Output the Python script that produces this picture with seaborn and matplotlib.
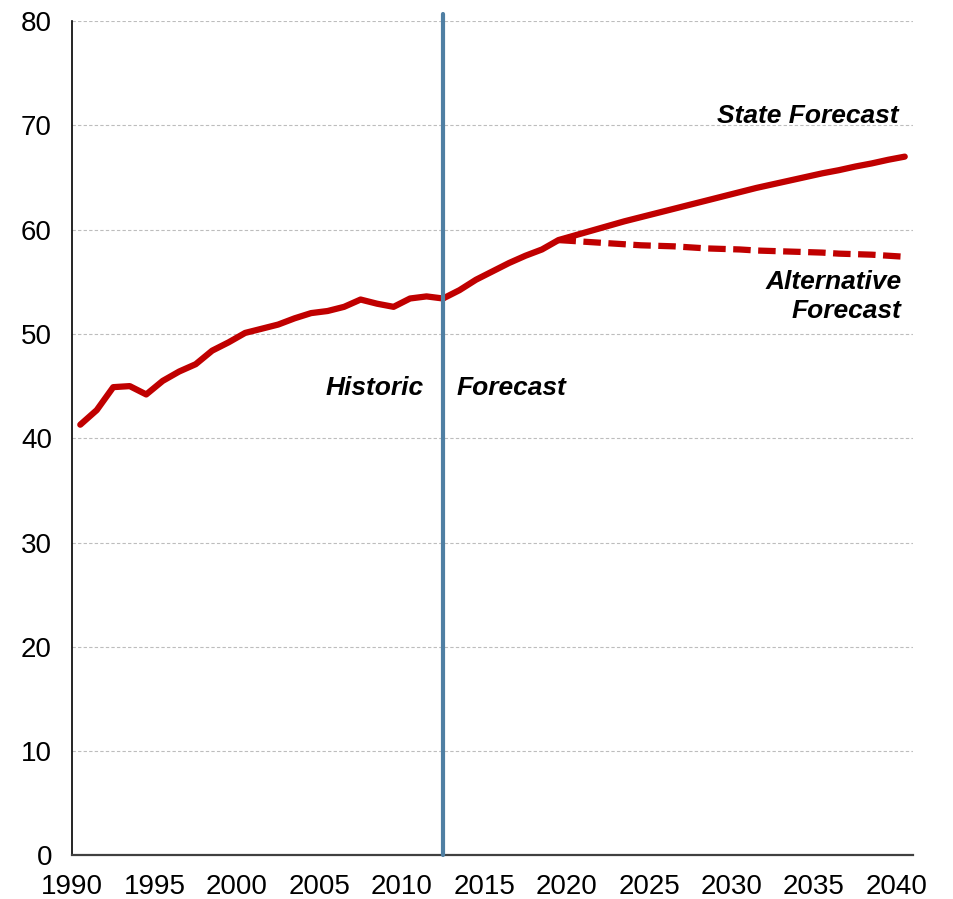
import pandas as pd
import seaborn as sns
import matplotlib.pyplot as plt

# historic series 1990-2012
hist_years = list(range(1990, 2013))
hist_vals = [41.3, 42.7, 44.9, 45.0, 44.2, 45.5, 46.4, 47.1, 48.4, 49.2,
             50.1, 50.5, 50.9, 51.5, 52.0, 52.2, 52.6, 53.3, 52.9, 52.6,
             53.4, 53.6, 53.4]

# state forecast 2012-2040
state_years = list(range(2012, 2041))
state_vals = [53.4, 54.2, 55.2, 56.0, 56.8, 57.5, 58.1, 59.0,
              59.45, 59.9, 60.35, 60.8, 61.2, 61.6, 62.0, 62.4, 62.8, 63.2,
              63.6, 64.0, 64.35, 64.7, 65.05, 65.4, 65.7, 66.05, 66.35, 66.7, 67.0]

# alternative forecast 2019-2040
alt_years = list(range(2019, 2041))
alt_vals = [59.0, 58.9, 58.8, 58.7, 58.6, 58.5, 58.45, 58.4, 58.3, 58.2,
            58.15, 58.1, 58.0, 57.95, 57.9, 57.85, 57.8, 57.7, 57.65, 57.6,
            57.5, 57.4]

tick_years = list(range(1990, 2041, 5))
split_year = 2012

sns.set_style("white")
plt.rcParams['font.family'] = ['Liberation Sans', 'DejaVu Sans']

red = "#C00000"

df_hist = pd.DataFrame({"year": hist_years, "value": hist_vals})
df_state = pd.DataFrame({"year": state_years, "value": state_vals})
df_alt = pd.DataFrame({"year": alt_years, "value": alt_vals})

fig, ax = plt.subplots(figsize=(9.54, 8.99), dpi=100)
fig.subplots_adjust(left=0.0755, right=0.957, bottom=0.0484, top=0.9766)

# grid
for v in range(10, 81, 10):
    ax.axhline(v, color="#BDBDBD", lw=0.8, ls=(0, (3, 2)), zorder=0)

sns.lineplot(data=df_alt, x="year", y="value", ax=ax, color=red, lw=4.5, zorder=3)
alt_line = ax.lines[-1]
alt_line.set_linestyle((0, (2.8, 1.2)))

sns.lineplot(data=df_hist, x="year", y="value", ax=ax, color=red, lw=4.5, zorder=4)
sns.lineplot(data=df_state, x="year", y="value", ax=ax, color=red, lw=4.5, zorder=4)
for ln in ax.lines[-2:]:
    ln.set_solid_capstyle("round")
    ln.set_solid_joinstyle("round")

ax.axvline(split_year, ymin=0.0, ymax=1.008, color="#4F7FA3", lw=3,
           clip_on=False, zorder=5)

ax.set_xlim(1989.5, 2040.5)
ax.set_ylim(0, 80)
ax.set_xticks([y - 0.5 for y in tick_years])
ax.set_xticklabels([str(y) for y in tick_years])
ax.set_yticks(range(0, 81, 10))
ax.set_xlabel("")
ax.set_ylabel("")

for s in ["top", "right"]:
    ax.spines[s].set_visible(False)
ax.spines["left"].set_color("black")
ax.spines["left"].set_linewidth(1.2)
ax.spines["bottom"].set_color("#404040")
ax.spines["bottom"].set_linewidth(1.6)
ax.tick_params(axis="both", direction="inout", length=11, width=1,
               color="black", labelsize=20, labelcolor="black")
ax.tick_params(axis="y", pad=9)
ax.tick_params(axis="x", pad=8)

txt = dict(fontsize=19, fontweight="bold", fontstyle="italic", color="black")
ax.text(2039.6, 70.9, "State Forecast", ha="right", va="center", **txt)
ax.text(2039.8, 53.6, "Alternative\nForecast", ha="right", va="center",
        multialignment="right", linespacing=1.3, **txt)
ax.text(2010.8, 44.8, "Historic", ha="right", va="center", **txt)
ax.text(2012.8, 44.8, "Forecast", ha="left", va="center", **txt)

plt.savefig("out.png", dpi=100)
